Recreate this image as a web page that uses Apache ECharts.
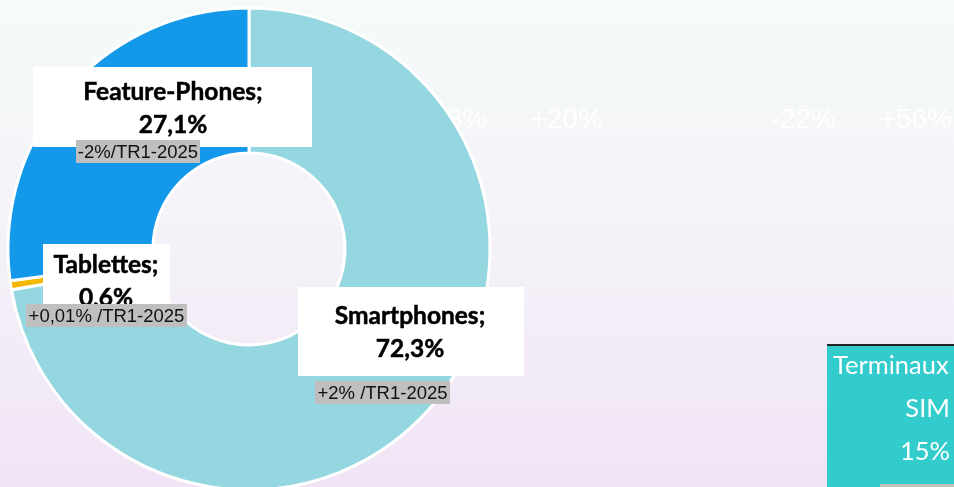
<!DOCTYPE html>
<html>
<head>
<meta charset="utf-8">
<script src="https://cdn.jsdelivr.net/npm/echarts@6/dist/echarts.min.js"></script>
<style>
  html, body { margin: 0; padding: 0; }
  #terminalsChart { width: 954px; height: 487px; }
</style>
</head>
<body>
<div id="terminalsChart"></div>
<script>
// part de marché des terminaux
const categories = ["Smartphones", "Tablettes", "Feature-Phones"];
const shares = [72.3, 0.6, 27.1];
const changes = ["+2% /TR1-2025", "+0,01% /TR1-2025", "-2%/TR1-2025"];
const sliceColors = ["#95d7e0", "#f5b800", "#1499ea"];
// textes pâles en arrière-plan
const faintLabels = ["+8%", "+20%", "-22%", "+56%"];
const faintRight = [487, 603, 836, 952];
// encadré turquoise
const simLines = ["Terminaux", "SIM", "15%"];

// boîtes des étiquettes (x, y, largeur, hauteur) + boîte grise
const labelBoxes = [
  { box: [298, 287, 226, 89], text: [410, 316, 349], grey: [315, 381, 135, 23] },
  { box: [43, 244, 127, 62], text: [106, 265, 298], grey: [26, 304, 161, 23] },
  { box: [33, 67, 279, 80], text: [173, 92, 125], grey: [76, 140, 124, 23] },
];

const fmt = (v) => v.toFixed(1).replace(".", ",") + "%";

const chart = echarts.init(document.getElementById("terminalsChart"));

const boldFont = "bold 24.5px Lato, 'Open Sans', sans-serif";
const graphics = [];
faintLabels.forEach((t, i) => {
  graphics.push({
    type: "text",
    z: 0,
    x: faintRight[i],
    y: 120,
    style: {
      text: t,
      fill: "rgba(255,255,255,0.95)",
      font: "28px 'Liberation Sans', Arial, sans-serif",
      textAlign: "right",
      textVerticalAlign: "middle",
    },
  });
});

labelBoxes.forEach((b, i) => {
  graphics.push({
    type: "rect",
    z: 100,
    shape: { x: b.box[0], y: b.box[1], width: b.box[2], height: b.box[3] },
    style: { fill: "#ffffff" },
  });
  [categories[i] + ";", fmt(shares[i])].forEach((t, k) => {
    graphics.push({
      type: "text",
      z: 101,
      x: b.text[0],
      y: b.text[1 + k],
      style: {
        text: t,
        fill: "#000",
        stroke: "#000",
        lineWidth: 0.5,
        font: boldFont,
        textAlign: "center",
        textVerticalAlign: "middle",
      },
    });
  });
  graphics.push({
    type: "rect",
    z: 102,
    shape: { x: b.grey[0], y: b.grey[1], width: b.grey[2], height: b.grey[3] },
    style: { fill: "#bfbfbf" },
  });
  graphics.push({
    type: "text",
    z: 103,
    x: b.grey[0] + b.grey[2] / 2,
    y: b.grey[1] + b.grey[3] / 2 + 1.5,
    style: {
      text: changes[i],
      fill: "#111",
      font: "18.5px 'Liberation Sans', Arial, sans-serif",
      textAlign: "center",
      textVerticalAlign: "middle",
    },
  });
});

// encadré turquoise coupé à droite
graphics.push({
  type: "rect",
  z: 100,
  shape: { x: 827, y: 345, width: 140, height: 150 },
  style: { fill: "#33cccc" },
});
graphics.push({
  type: "rect",
  z: 101,
  shape: { x: 827, y: 344, width: 140, height: 2 },
  style: { fill: "#222" },
});
graphics.push({
  type: "rect",
  z: 101,
  shape: { x: 880, y: 484, width: 80, height: 4 },
  style: { fill: "#bfbfbf" },
});
simLines.forEach((t, i) => {
  graphics.push({
    type: "text",
    z: 102,
    x: i === 0 ? 833 : 950,
    y: 366 + i * 43,
    style: {
      text: t,
      fill: "#ffffff",
      font: "25.5px Lato, 'Open Sans', sans-serif",
      textAlign: i === 0 ? "left" : "right",
      textVerticalAlign: "middle",
    },
  });
});

chart.setOption({
  backgroundColor: {
    type: "linear",
    x: 0,
    y: 0,
    x2: 0,
    y2: 1,
    colorStops: [
      { offset: 0, color: "#f5fbf9" },
      { offset: 0.5, color: "#f4f2f8" },
      { offset: 1, color: "#f1e3f6" },
    ],
  },
  animation: false,
  series: [
    {
      type: "pie",
      center: [249, 249],
      radius: [96, 241],
      startAngle: 90,
      clockwise: true,
      z: 2,
      label: { show: false },
      labelLine: { show: false },
      itemStyle: { borderColor: "#ffffff", borderWidth: 3 },
      data: categories.map((c, i) => ({
        name: c,
        value: shares[i],
        itemStyle: { color: sliceColors[i] },
      })),
    },
  ],
  graphic: { elements: graphics },
});

window.addEventListener("resize", () => {
  chart.resize();
});
</script>
</body>
</html>
